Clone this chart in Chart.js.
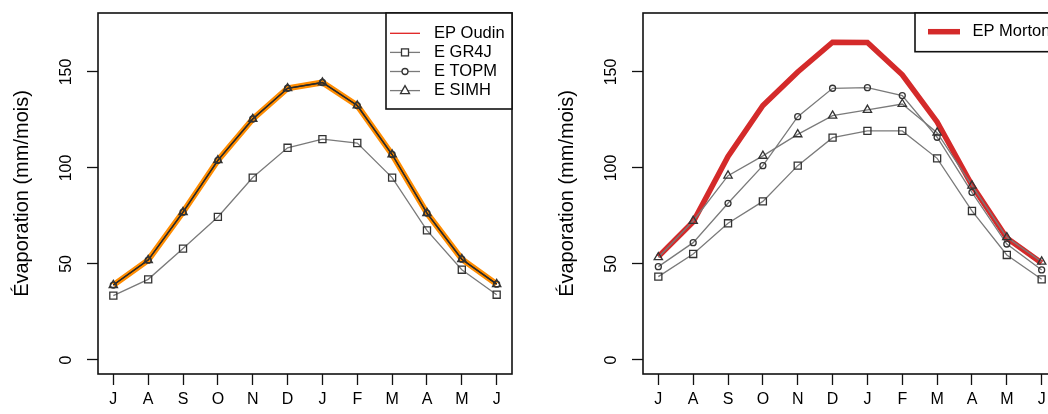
<!DOCTYPE html>
<html>
<head>
<meta charset="utf-8">
<script src="https://cdn.jsdelivr.net/npm/chart.js@4.4.1/dist/chart.umd.min.js"></script>
<style>
  html, body { margin: 0; padding: 0; background: #fff; width: 1048px; height: 414px; overflow: hidden; }
  #left, #right { position: absolute; top: 0; }
  #left { left: 0; }
  #right { left: 545px; }
</style>
</head>
<body>
<canvas id="left" width="524" height="414"></canvas>
<canvas id="right" width="524" height="414"></canvas>
<script>
// months, July to June
var months = ['J', 'A', 'S', 'O', 'N', 'D', 'J', 'F', 'M', 'A', 'M', 'J'];
var yTicks = [0, 50, 100, 150];
var yTitle = 'Évaporation (mm/mois)';

// left panel (Oudin)
var oudinEP   = [39, 52, 77, 104, 125.5, 141.5, 144.5, 132.5, 107, 76.5, 52.5, 39.5];
var oudinGR4J = [33.5, 42, 58, 74.5, 95, 110.5, 115, 113, 95, 67.5, 47, 34];
var oudinTOPM = [39, 52, 77, 104, 125.5, 141.5, 144.5, 132.5, 107, 76.5, 52.5, 39.5];
var oudinSIMH = [39, 52, 77, 104, 125.5, 141.5, 144.5, 132.5, 107, 76.5, 52.5, 39.5];

// right panel (Morton)
var mortonEP   = [53.8, 72, 106, 132.5, 150, 165.5, 165.3, 148.5, 124, 91, 63.5, 50.5];
var mortonGR4J = [43.4, 55.2, 71.2, 82.6, 101.2, 115.8, 119.3, 119.3, 105, 77.6, 54.7, 42];
var mortonTOPM = [48.6, 61.1, 81.6, 101.2, 126.7, 141.5, 141.8, 137.7, 116, 87.3, 60.4, 46.9];
var mortonSIMH = [53.5, 72.4, 96, 106.3, 117.5, 127.2, 130.2, 133.3, 118.4, 90.8, 63.9, 51.2];

var FONT = "'Liberation Sans', Arial, sans-serif";
var GRAY = '#7a7a7a';
var MARK = '#333333';

function pts(arr) {
	return arr.map(function(v, i) { return {x: i + 1, y: v}; });
}

function modelSet(label, arr, style, radius, lineColor, ord) {
	return {
		label: label,
		data: pts(arr),
		borderColor: lineColor,
		borderWidth: 1.3,
		pointStyle: style,
		pointRadius: radius,
		pointBorderColor: MARK,
		pointBorderWidth: 1.3,
		pointBackgroundColor: 'rgba(0,0,0,0)',
		tension: 0,
		order: ord
	};
}

// box around plot + legend in the top right corner
var rPlot = {
	id: 'rPlot',
	afterDraw: function(chart) {
		var ctx = chart.ctx, a = chart.chartArea;
		var lg = chart.options.plugins.rPlot;
		ctx.save();
		ctx.strokeStyle = '#111';
		ctx.lineWidth = 1.6;
		ctx.strokeRect(a.left, a.top, a.right - a.left, a.bottom - a.top);

		// legend
		ctx.fillStyle = '#fff';
		ctx.fillRect(lg.x, lg.y, lg.w, lg.h);
		ctx.strokeRect(lg.x, lg.y, lg.w, lg.h);
		ctx.font = '16.5px ' + FONT;
		ctx.textBaseline = 'middle';
		ctx.textAlign = 'left';
		for (var i = 0; i < lg.items.length; i++) {
			var it = lg.items[i];
			var y = lg.y0 + i * lg.dy;
			ctx.strokeStyle = it.color;
			ctx.lineWidth = it.width;
			ctx.beginPath();
			ctx.moveTo(lg.x1, y);
			ctx.lineTo(lg.x2, y);
			ctx.stroke();
			var cx = (lg.x1 + lg.x2) / 2;
			ctx.strokeStyle = MARK;
			ctx.lineWidth = 1.3;
			ctx.fillStyle = '#fff';
			if (it.mark === 'rect') {
				ctx.fillRect(cx - 3.5, y - 3.5, 7, 7);
				ctx.strokeRect(cx - 3.5, y - 3.5, 7, 7);
			} else if (it.mark === 'circle') {
				ctx.beginPath();
				ctx.arc(cx, y, 3, 0, Math.PI * 2);
				ctx.fill();
				ctx.stroke();
			} else if (it.mark === 'triangle') {
				ctx.beginPath();
				ctx.moveTo(cx, y - 5);
				ctx.lineTo(cx + 4.5, y + 3);
				ctx.lineTo(cx - 4.5, y + 3);
				ctx.closePath();
				ctx.fill();
				ctx.stroke();
			}
			ctx.fillStyle = '#000';
			ctx.fillText(it.label, lg.tx, y);
		}
		ctx.restore();
	}
};

function makeChart(id, datasets, legend) {
	return new Chart(document.getElementById(id), {
		type: 'line',
		data: { datasets: datasets },
		plugins: [rPlot],
		options: {
			responsive: false,
			animation: false,
			layout: { autoPadding: false, padding: { top: 13, right: 12, left: 0, bottom: 0 } },
			plugins: {
				legend: { display: false },
				tooltip: { enabled: false },
				rPlot: legend
			},
			scales: {
				x: {
					type: 'linear',
					min: 0.56,
					max: 12.44,
					afterBuildTicks: function(s) {
						s.ticks = months.map(function(m, i) { return {value: i + 1}; });
					},
					afterFit: function(s) { s.height = 40; },
					grid: { drawOnChartArea: false, drawTicks: true, tickLength: 11, tickColor: '#111', tickWidth: 1.3 },
					border: { display: false },
					ticks: {
						autoSkip: false,
						maxRotation: 0,
						padding: 5,
						color: '#000',
						font: { family: FONT, size: 16 },
						callback: function(v) { return months[Math.round(v) - 1]; }
					}
				},
				y: {
					min: -7.3,
					max: 180.7,
					afterBuildTicks: function(s) {
						s.ticks = yTicks.map(function(v) { return {value: v}; });
					},
					afterFit: function(s) {
						s.width = 98;
						s.paddingTop = 0;
						s.paddingBottom = 0;
					},
					grid: { drawOnChartArea: false, drawTicks: true, tickLength: 11, tickColor: '#111', tickWidth: 1.3 },
					border: { display: false },
					title: {
						display: true,
						text: yTitle,
						color: '#000',
						font: { family: FONT, size: 20 },
						padding: { top: 10, bottom: 0 }
					},
					ticks: {
						minRotation: 90,
						maxRotation: 90,
						crossAlign: 'center',
						padding: 7,
						color: '#000',
						font: { family: FONT, size: 16 }
					}
				}
			}
		}
	});
}

var leftSets = [
	{
		label: 'EP Oudin',
		data: pts(oudinEP),
		borderColor: '#ff8c00',
		borderWidth: 6,
		pointRadius: 0,
		tension: 0,
		order: 10
	},
	modelSet('E GR4J', oudinGR4J, 'rect', 5, GRAY, 3),
	modelSet('E TOPM', oudinTOPM, 'circle', 3, '#2a2a2a', 2),
	modelSet('E SIMH', oudinSIMH, 'triangle', 4.8, '#2a2a2a', 1)
];

var rightSets = [
	{
		label: 'EP Morton',
		data: pts(mortonEP),
		borderColor: '#d42a2a',
		borderWidth: 5.5,
		pointRadius: 0,
		tension: 0,
		order: 10
	},
	modelSet('E GR4J', mortonGR4J, 'rect', 5, GRAY, 3),
	modelSet('E TOPM', mortonTOPM, 'circle', 3, GRAY, 2),
	modelSet('E SIMH', mortonSIMH, 'triangle', 4.8, GRAY, 1)
];

makeChart('left', leftSets, {
	x: 386, y: 13, w: 126, h: 96,
	x1: 390, x2: 420, tx: 434, y0: 33.3, dy: 19.1,
	items: [
		{ label: leftSets[0].label, color: '#e02020', width: 1.3, mark: null },
		{ label: leftSets[1].label, color: GRAY, width: 1.3, mark: 'rect' },
		{ label: leftSets[2].label, color: GRAY, width: 1.3, mark: 'circle' },
		{ label: leftSets[3].label, color: GRAY, width: 1.3, mark: 'triangle' }
	]
});

makeChart('right', rightSets, {
	x: 370, y: 13, w: 160, h: 38.7,
	x1: 383, x2: 415, tx: 427.5, y0: 31.7, dy: 19,
	items: [
		{ label: rightSets[0].label, color: '#d42a2a', width: 5.5, mark: null }
	]
});
</script>
</body>
</html>
